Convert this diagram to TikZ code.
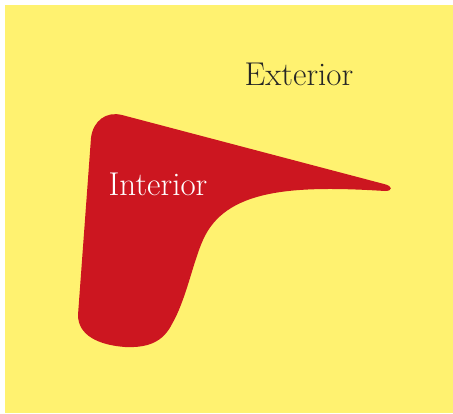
\documentclass[tikz,border=0pt]{standalone}
\usepackage{tikz}
\usetikzlibrary{positioning}
\definecolor{regionyellow}{RGB}{255,242,112}
\definecolor{regionred}{RGB}{204,22,32}

\begin{document}
\begin{tikzpicture}[x=1pt, y=-1pt]
\useasboundingbox (0,0) rectangle (453,413);
\fill[regionyellow] (5,5) rectangle (453,413);
% the region
\fill[regionred] (122,115) -- (384,184)
  .. controls (393,186) and (393,191) .. (385,191)
  .. controls (290,185) and (225,190) .. (203,240)
  .. controls (193,262) and (186,300) .. (172,324)
  .. controls (163,342) and (148,348) .. (125,347)
  .. controls (98,345) and (78,335) .. (78,315)
  -- (91,138)
  .. controls (93,121) and (106,111) .. (122,115) -- cycle;
\node[anchor=base, font=\fontsize{33}{38}\selectfont, text=black!85] (exterior) at (299,85) {Exterior};
\node[anchor=base, font=\fontsize{33}{38}\selectfont, text=white] (interior) at (158,195) {Interior};
\end{tikzpicture}
\end{document}
